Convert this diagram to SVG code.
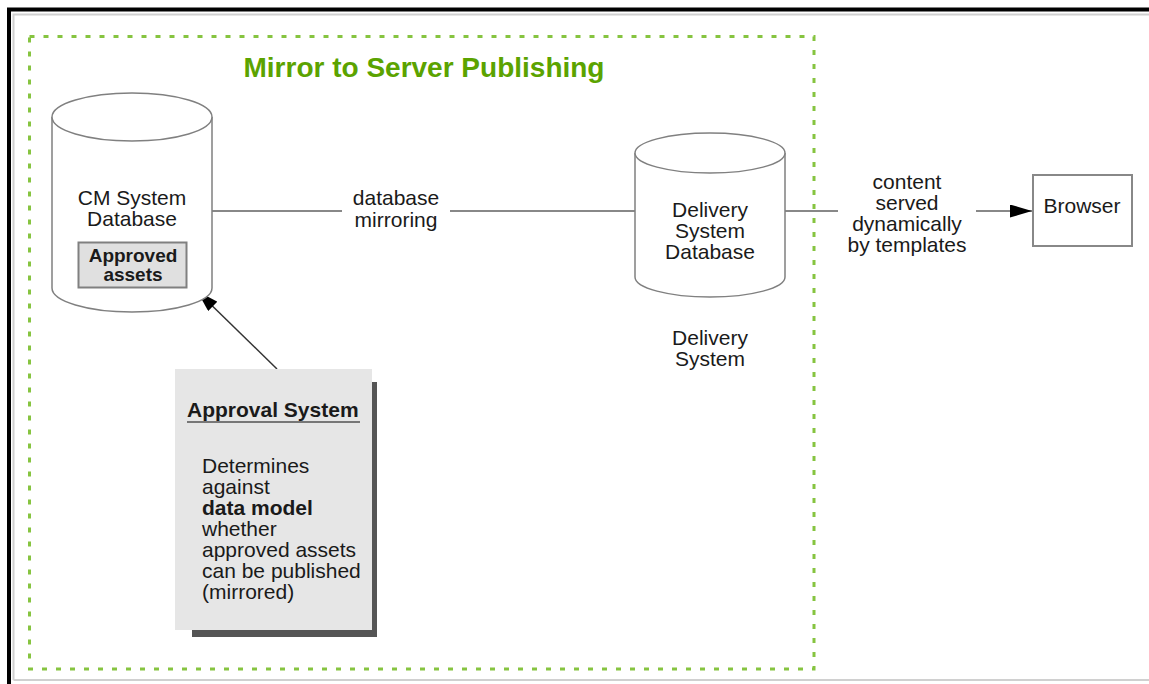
<svg xmlns="http://www.w3.org/2000/svg" width="1149" height="684" viewBox="0 0 1149 684">
<style>
text{font-family:"Liberation Sans",Arial,sans-serif;fill:#1a1a1a}
.t{font-size:21px}
.c{text-anchor:middle}
.b{font-weight:bold}
.cyl{fill:#fff;stroke:#808080;stroke-width:1.5}
.con{stroke:#888;stroke-width:2;fill:none}
</style>
<defs>
<marker id="ah" viewBox="0 0 10 10" refX="10" refY="5" markerWidth="22" markerHeight="13" markerUnits="userSpaceOnUse" orient="auto" preserveAspectRatio="none">
<path d="M0,0 L10,5 L0,10 Z" fill="#000"/>
</marker>
</defs>
<rect width="1149" height="684" fill="#fff"/>
<g id="frame">
<path d="M9,684 V9.5 H1149" fill="none" stroke="#000" stroke-width="4"/>
<path d="M13.5,680 V14.5 H1149 M13.5,680 H1149" fill="none" stroke="#d0d0d0" stroke-width="2"/>
</g>
<g id="group-box">
<rect x="29.5" y="36.5" width="784.5" height="632.5" fill="none" stroke="#86c440" stroke-width="3" stroke-dasharray="5 9"/>
<text x="424" y="77" class="c b" style="font-size:28px;fill:#5ba300">Mirror to Server Publishing</text>
</g>
<g id="connectors">
<path class="con" d="M212,211 H342 M450,211 H635 M785,211 H838"/>
<line class="con" x1="976" y1="211" x2="1032" y2="211" stroke="#666" marker-end="url(#ah)"/>
<line x1="277" y1="369" x2="197" y2="291" stroke="#333" stroke-width="1.5" marker-end="url(#ah)"/>
<text class="t c" x="396" y="205">database</text>
<text class="t c" x="396" y="227">mirroring</text>
<text class="t c" x="907" y="189">content</text>
<text class="t c" x="907" y="210">served</text>
<text class="t c" x="907" y="231">dynamically</text>
<text class="t c" x="907" y="252">by templates</text>
</g>
<g id="cm-db">
<path class="cyl" d="M52,117 V288 A80,24 0 0 0 212,288 V117"/>
<ellipse class="cyl" cx="132" cy="117" rx="80" ry="24"/>
<text class="t c" x="132" y="205">CM System</text>
<text class="t c" x="132" y="226">Database</text>
</g>
<g id="approved-assets">
<rect x="78.5" y="242.5" width="108" height="45" fill="#e0e0e0" stroke="#808080" stroke-width="2"/>
<text class="c b" style="font-size:19px" x="133" y="262">Approved</text>
<text class="c b" style="font-size:19px" x="133" y="281">assets</text>
</g>
<g id="delivery-db">
<path class="cyl" d="M635,153 V277 A75,20 0 0 0 785,277 V153"/>
<ellipse class="cyl" cx="710" cy="153" rx="75" ry="20"/>
<text class="t c" x="710" y="217">Delivery</text>
<text class="t c" x="710" y="238">System</text>
<text class="t c" x="710" y="259">Database</text>
</g>
<g id="delivery-system">
<text class="t c" x="710" y="345">Delivery</text>
<text class="t c" x="710" y="366">System</text>
</g>
<g id="browser">
<rect x="1033" y="175" width="99" height="71" fill="#fff" stroke="#888" stroke-width="2"/>
<text class="t c" x="1082" y="213">Browser</text>
</g>
<g id="approval-system">
<rect x="192" y="382" width="185" height="255" fill="#555"/>
<rect x="175" y="369" width="197" height="261" fill="#e6e6e6"/>
<text class="t b" x="187" y="417">Approval System</text>
<line x1="187" y1="422" x2="360" y2="422" stroke="#777" stroke-width="2"/>
<text class="t" x="202" y="473">Determines</text>
<text class="t" x="202" y="494">against</text>
<text class="t b" x="202" y="515">data model</text>
<text class="t" x="202" y="536">whether</text>
<text class="t" x="202" y="557">approved assets</text>
<text class="t" x="202" y="578">can be published</text>
<text class="t" x="202" y="599">(mirrored)</text>
</g>
</svg>
